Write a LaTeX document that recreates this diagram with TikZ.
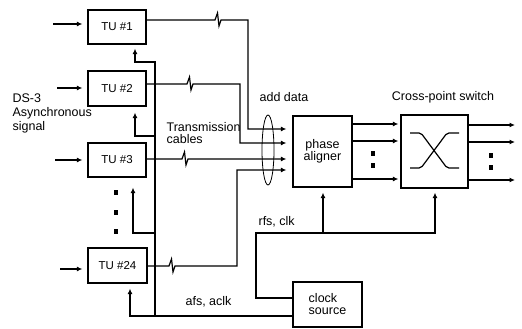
\documentclass[tikz,border=0pt]{standalone}
\usepackage{fontspec}
\setmainfont{Liberation Sans}
\usetikzlibrary{arrows.meta,shapes.geometric}
\begin{document}
\begin{tikzpicture}[x=1pt,y=-1pt,
  line width=1.2pt,
  box/.style={draw, rectangle, inner sep=0pt, font=\fontsize{12.5}{12}\selectfont, align=center},
  tubox/.style={box, minimum width=58pt, minimum height=34pt, font=\fontsize{11.5}{13}\selectfont},
  lbl/.style={font=\fontsize{12.5}{14}\selectfont, inner sep=0pt},
  arr/.style={-{Latex[length=5.5pt,width=5pt]}},
  dotm/.style={fill=black, draw=none, minimum width=3.5pt, minimum height=5pt, inner sep=0pt},
]
\useasboundingbox (0,0) rectangle (522,329);

% boxes
\node[tubox] (tu1) at (117,27) {TU \#1};
\node[tubox, minimum height=35pt] (tu2) at (117,88.5) {TU \#2};
\node[tubox] (tu3) at (117,160) {TU \#3};
\node[tubox, minimum width=59pt, minimum height=35pt] (tu24) at (117.5,265.5) {TU \#24};
\node[box, minimum width=59pt, minimum height=71pt] (pa) at (322.5,151.5) {phase\\aligner};
\node[box, minimum width=67pt, minimum height=73pt] (cs) at (434.5,151.5) {};
\node[box, minimum width=69pt, minimum height=45pt, align=left] (cl) at (327.5,304.5) {clock\\source};
\node[draw, ellipse, line width=0.8pt, minimum width=12pt, minimum height=70pt, inner sep=0pt] (bundle) at (268,150) {};

% labels
\node[lbl, anchor=west, align=left] (ds3) at (12,113) {DS-3\\Asynchronous\\signal};
\node[lbl, anchor=west, align=left, font=\fontsize{12.5}{12}\selectfont] (tc) at (166,133) {Transmission\\cables};
\node[lbl, anchor=west] (add) at (259,97) {add data};
\node[lbl] (cps) at (443,97) {Cross-point switch};
\node[lbl, anchor=west] (rfs) at (258,222) {rfs, clk};
\node[lbl, anchor=west] (afs) at (185,302) {afs, aclk};

% dots
\node[dotm] (d1) at (116,192) {};
\node[dotm] (d2) at (116,212) {};
\node[dotm] (d3) at (116,231) {};
\node[dotm] (d4) at (373,153) {};
\node[dotm] (d5) at (373,165) {};
\node[dotm] (d6) at (491,155) {};
\node[dotm] (d7) at (491,167) {};

% inputs
\coordinate (i1) at (53,24);
\coordinate (i2) at (57,88);
\coordinate (i3) at (55,160);
\coordinate (i4) at (60,269);
\draw[arr, shorten >=5pt] (i1) -- (tu1.west |- i1);
\draw[arr, shorten >=5pt] (i2) -- (tu2.west |- i2);
\draw[arr, shorten >=5pt] (i3) -- (tu3.west |- i3);
\draw[arr, shorten >=5pt] (i4) -- (tu24.west |- i4);

% transmission cables
\draw[arr, shorten >=6pt] (tu1.east |- 0,20) -- (215,20) -- ++(2.5,-7) -- ++(1.5,13) -- ++(2,-6) -| (248,129) -- (pa.west |- 0,129);
\draw[arr, shorten >=6pt] (tu2.east |- 0,84) -- (187,84) -- ++(2.5,-7) -- ++(1.5,13) -- ++(2,-6) -| (240,143) -- (pa.west |- 0,143);
\draw[arr, shorten >=6pt] (tu3.east |- 0,159) -- (182,159) -- ++(2.5,-7) -- ++(1.5,13) -- ++(2,-6) -- (pa.west |- 0,159);
\draw[arr, shorten >=6pt] (tu24.east |- 0,266) -- (169,266) -- ++(2.5,-7) -- ++(1.5,13) -- ++(2,-6) -| (237,170) -- (pa.west |- 0,170);

% phase aligner to cross-point
\foreach \y in {124,141,179} \draw[arr, shorten >=2pt] (pa.east |- 0,\y) -- (cs.west |- 0,\y);

% cross-point outputs
\coordinate (o1) at (515,125);
\coordinate (o2) at (515,142);
\coordinate (o3) at (515,180);
\draw[arr] (cs.east |- o1) -- (o1);
\draw[arr] (cs.east |- o2) -- (o2);
\draw[arr] (cs.east |- o3) -- (o3);

% switch symbol
\draw[rounded corners=2pt] (410,133) -- (421,133) -- (447,168) -- (459,168);
\draw[rounded corners=2pt] (410,168) -- (421,168) -- (447,133) -- (459,133);

% afs, aclk distribution
\coordinate (bj) at (155,316);
\draw[arr, shorten >=5pt] (cl.west |- 0,316) -| (tu24.south -| 130,0);
\draw[arr, shorten >=4pt] (bj) -- (155,62) -| (tu1.south -| 135,0);
\draw[arr, shorten >=6pt] (155,136) -| (tu2.south -| 135,0);
\draw[arr, shorten >=10pt] (155,233) -| (tu3.south -| 133,0);

% rfs, clk distribution
\draw[arr, shorten >=4pt] (cl.west |- 0,298) -| (256,233) -| (cs.south -| 435,0);
\draw[arr, shorten >=5pt] (323,233) -- (pa.south -| 323,0);
\end{tikzpicture}
\end{document}
